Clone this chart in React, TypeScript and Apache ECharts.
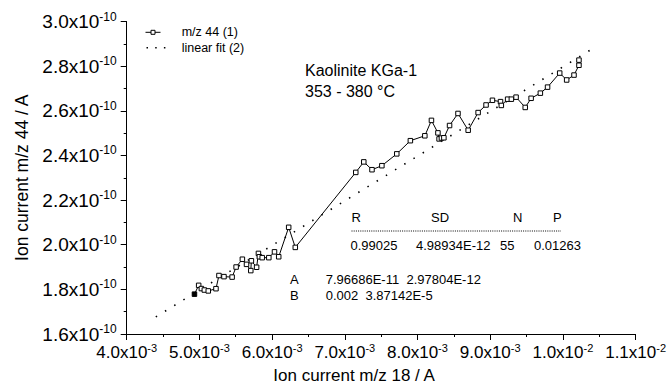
import React, { useEffect, useRef } from "react";
import * as echarts from "echarts";

// Ion current m/z 18, in units of 1e-3 A
const mz18 = [
  4.932, 4.99, 5.027, 5.068, 5.122, 5.228, 5.269, 5.338, 5.45, 5.505,
  5.591, 5.648, 5.707, 5.715, 5.787, 5.812, 5.825, 5.864, 5.955, 6.033,
  6.091, 6.228, 6.319, 7.151, 7.261, 7.374, 7.51, 7.715, 7.902, 8.101,
  8.192, 8.281, 8.297, 8.329, 8.363, 8.441, 8.557, 8.697, 8.834, 8.943,
  9.031, 9.142, 9.153, 9.24, 9.291, 9.356, 9.482, 9.563, 9.69, 9.789,
  9.956, 10.052, 10.153, 10.221, 10.221,
];
// Ion current m/z 44, in units of 1e-10 A
const mz44 = [
  1.7785, 1.818, 1.8035, 1.797, 1.793, 1.803, 1.862, 1.857, 1.855, 1.9,
  1.935, 1.912, 1.884, 1.928, 1.899, 1.961, 1.946, 1.942, 1.942, 1.968,
  1.946, 2.078, 1.988, 2.324, 2.371, 2.336, 2.354, 2.407, 2.466, 2.488,
  2.557, 2.501, 2.474, 2.478, 2.479, 2.534, 2.588, 2.513, 2.592, 2.626,
  2.647, 2.641, 2.624, 2.652, 2.652, 2.661, 2.615, 2.656, 2.679, 2.706,
  2.769, 2.738, 2.76, 2.804, 2.827,
];
// linear fit: y = A + slope * x (A in A, slope in A/A), drawn over fitRange (1e-3 A)
const fitA = 7.96686e-11;
const fitSlope = 2.0e-8;
const fitRange = [4.4, 10.4];

const xTicks = [4, 5, 6, 7, 8, 9, 10, 11];
const yTicks = [1.6, 1.8, 2.0, 2.2, 2.4, 2.6, 2.8, 3.0];

const statHeaders = ["R", "SD", "N", "P"];
const statValues = ["0.99025", "4.98934E-12", "55", "0.01263"];
const paramRows = [
  ["A", "7.96686E-11  2.97804E-12"],
  ["B", "0.002  3.87142E-5"],
];
const seriesNames = ["m/z 44 (1)", "linear fit (2)"];
const titleLines = ["Kaolinite KGa-1", "353 - 380 °C"];

const FONT = "'Liberation Sans', Arial, Helvetica, sans-serif";

export default function App() {
  const ref = useRef<HTMLDivElement>(null);
  useEffect(() => {
    if (!ref.current) return;
    const chart = echarts.init(ref.current, null, { renderer: "svg" });

    const points = mz18.map((x, i) =>
      i === 0
        ? { value: [x, mz44[i]], itemStyle: { color: "#000" } }
        : { value: [x, mz44[i]] }
    );
    const fitData = fitRange.map((x) => [x, (fitA + fitSlope * x * 1e-3) / 1e-10]);

    const richX = {
      b: { fontSize: 17, fontFamily: FONT, color: "#000", lineHeight: 20 },
      s: { fontSize: 11, fontFamily: FONT, color: "#000", lineHeight: 12, verticalAlign: "top" },
    };
    const richY = {
      b: { fontSize: 19, fontFamily: FONT, color: "#000", lineHeight: 22 },
      s: { fontSize: 12, fontFamily: FONT, color: "#000", lineHeight: 13, verticalAlign: "top" },
    };

    const headerX = [351.5, 431, 513, 553];
    const valueX = [350.5, 416, 500, 534];

    const graphics: any[] = [];
    // legend
    graphics.push({
      type: "line",
      shape: { x1: 145.5, y1: 32.3, x2: 160.5, y2: 32.3 },
      style: { stroke: "#000", lineWidth: 1 },
    });
    graphics.push({
      type: "rect",
      shape: { x: 151, y: 30.3, width: 4, height: 4 },
      style: { fill: "#fff", stroke: "#000", lineWidth: 1 },
    });
    graphics.push({
      type: "line",
      shape: { x1: 146.5, y1: 47.7, x2: 166, y2: 47.7 },
      style: { stroke: "#000", lineWidth: 1.6, lineDash: [1.5, 7.2] },
    });
    seriesNames.forEach((t, i) => {
      graphics.push({
        type: "text",
        x: 181.7,
        y: [32.3, 47.7][i],
        style: { text: t, font: `12.5px ${FONT}`, fill: "#000", verticalAlign: "middle" },
      });
    });
    titleLines.forEach((t, i) => {
      graphics.push({
        type: "text",
        left: 305,
        top: [62, 83][i],
        style: { text: t, font: `16px ${FONT}`, fill: "#000" },
      });
    });
    statHeaders.forEach((t, i) => {
      graphics.push({
        type: "text",
        x: headerX[i],
        y: 217,
        style: { text: t, font: `13px ${FONT}`, fill: "#000", verticalAlign: "middle" },
      });
    });
    statValues.forEach((t, i) => {
      graphics.push({
        type: "text",
        x: valueX[i],
        y: 245.5,
        style: { text: t, font: `13px ${FONT}`, fill: "#000", verticalAlign: "middle" },
      });
    });
    graphics.push({
      type: "line",
      shape: { x1: 351.5, y1: 231, x2: 561, y2: 231 },
      style: { stroke: "#000", lineWidth: 1, lineDash: [1, 1.2] },
    });
    paramRows.forEach((r, i) => {
      const y = [279.5, 295.3][i];
      graphics.push({
        type: "text",
        x: 290,
        y,
        style: { text: r[0], font: `13px ${FONT}`, fill: "#000", verticalAlign: "middle" },
      });
      graphics.push({
        type: "text",
        x: 325.7,
        y,
        style: { text: r[1], font: `13px ${FONT}`, fill: "#000", verticalAlign: "middle" },
      });
    });

    chart.setOption({
      animation: false,
      backgroundColor: "#fff",
      grid: { left: 126.7, top: 21.5, width: 513.3, height: 319.2, containLabel: false },
      xAxis: {
        type: "value",
        min: xTicks[0],
        max: xTicks[xTicks.length - 1],
        interval: 1,
        name: "Ion current m/z 18 / A",
        nameLocation: "middle",
        nameGap: 33,
        nameTextStyle: { fontSize: 17, fontFamily: FONT, color: "#000", padding: [0, 54, 0, 0] },
        axisLine: { show: true, onZero: false, lineStyle: { color: "#000", width: 1 } },
        axisTick: { show: true, inside: false, length: 6, lineStyle: { color: "#000" } },
        minorTick: { show: true, splitNumber: 2, length: 3, lineStyle: { color: "#000" } },
        splitLine: { show: false },
        axisLabel: {
          margin: 8,
          formatter: (v: number) =>
            v >= 10
              ? `{b|${(v / 10).toFixed(1)}x10}{s|-2}`
              : `{b|${v.toFixed(1)}x10}{s|-3}`,
          rich: richX,
        },
      },
      yAxis: {
        type: "value",
        min: yTicks[0],
        max: yTicks[yTicks.length - 1],
        interval: 0.2,
        name: "Ion current m/z 44 / A",
        nameLocation: "middle",
        nameGap: 95,
        nameTextStyle: { fontSize: 17.5, fontFamily: FONT, color: "#000" },
        axisLine: { show: true, onZero: false, lineStyle: { color: "#000", width: 1 } },
        axisTick: { show: true, inside: false, length: 6, lineStyle: { color: "#000" } },
        minorTick: { show: true, splitNumber: 2, length: 3, lineStyle: { color: "#000" } },
        splitLine: { show: false },
        axisLabel: {
          margin: 10,
          formatter: (v: number) => `{b|${v.toFixed(1)}x10}{s|-10}`,
          rich: richY,
        },
      },
      series: [
        {
          name: seriesNames[0],
          type: "line",
          data: points,
          symbol: "rect",
          symbolSize: 4.5,
          showAllSymbol: true,
          itemStyle: { color: "#fff", borderColor: "#000", borderWidth: 1 },
          lineStyle: { color: "#000", width: 1 },
          z: 3,
        },
        {
          name: seriesNames[1],
          type: "line",
          data: fitData,
          symbol: "none",
          itemStyle: { color: "#000" },
          lineStyle: { color: "#000", width: 1.6, type: [1.5, 9.3], cap: "butt" },
          z: 2,
        },
      ],
      graphic: graphics,
    });
    return () => chart.dispose();
  }, []);
  return (
    <div
      ref={ref}
      style={{ position: "fixed", left: 0, top: 0, width: 669, height: 389, background: "#fff" }}
    />
  );
}
